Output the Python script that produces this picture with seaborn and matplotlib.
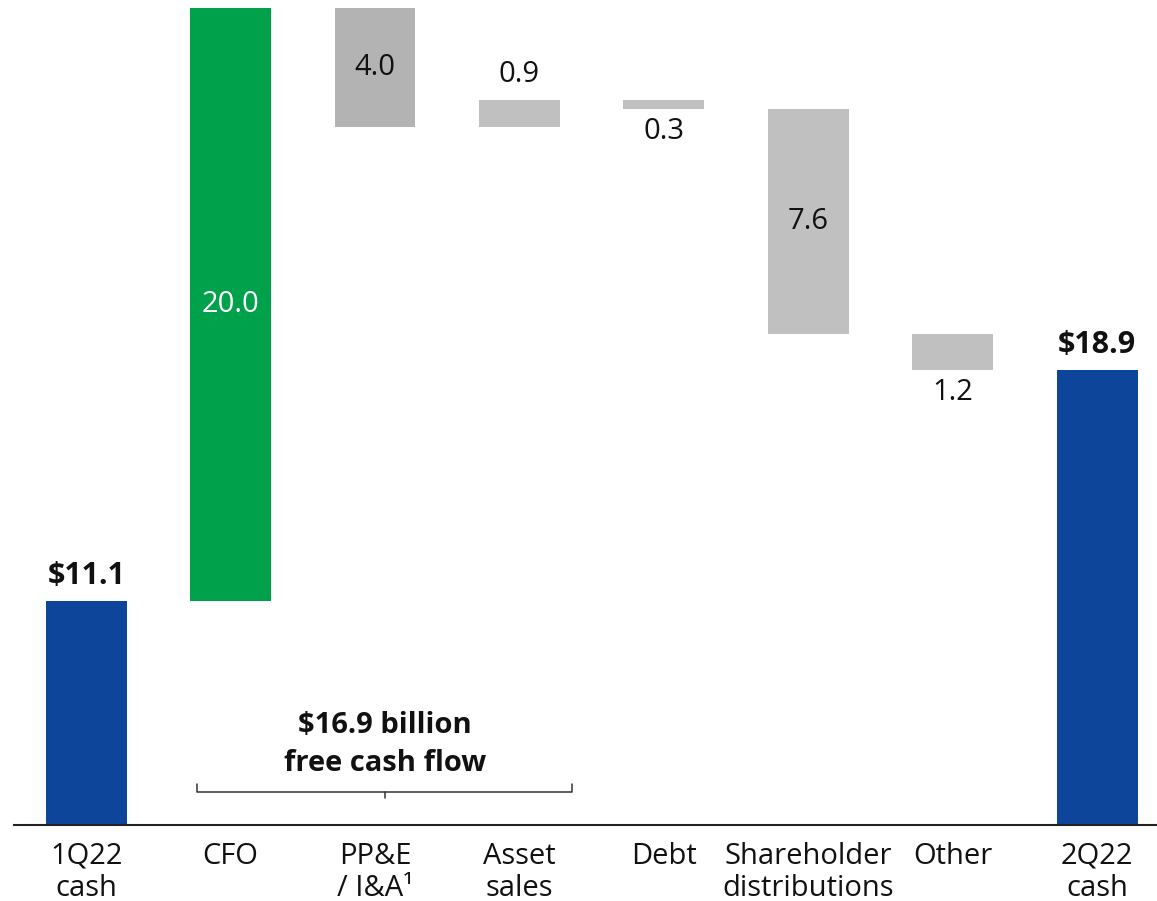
import pandas as pd
import matplotlib.pyplot as plt
import seaborn as sns

# -----------------------------
# Data ($ billion)
# -----------------------------
categories = ["1Q22\ncash", "CFO", "PP&E\n/ I&A¹", "Asset\nsales", "Debt",
              "Shareholder\ndistributions", "Other", "2Q22\ncash"]
start_cash = 11.1
flows = [20.0, -4.0, 0.9, -0.3, -7.6, -1.2]
end_cash = 18.9
fcf_items = [20.0, -4.0, 0.9]   # CFO, PP&E / I&A, Asset sales

BLUE = "#0C4599"
GREEN = "#00A14B"
GRAY = "#C0C0C0"
GRAY_DARK = "#B3B3B3"
flow_colors = [GREEN, GRAY_DARK, GRAY, GRAY, GRAY, GRAY]

# -----------------------------
# Build waterfall table
# -----------------------------
rows = [{"label": categories[0], "total": start_cash}]
level = start_cash
floats = []
for cat, f in zip(categories[1:-1], flows):
    floats.append((cat, min(level, level + f), abs(f), f))
    level += f
    rows.append({"label": cat, "total": float("nan")})
rows.append({"label": categories[-1], "total": end_cash})
df = pd.DataFrame(rows)

# -----------------------------
# Plot
# -----------------------------
sns.set_theme(style="white")
plt.rcParams["font.family"] = ["Open Sans", "DejaVu Sans"]

fig = plt.figure(figsize=(11.57, 9.01), dpi=100)
ax = fig.add_axes([14 / 1157, 76 / 901, 1 - 14 / 1157, 825 / 901])

BAR_W = 0.56
sns.barplot(data=df, x="label", y="total", order=categories, color=BLUE,
            width=BAR_W, saturation=1, ax=ax, linewidth=0)

for i, (cat, bottom, height, f) in enumerate(floats, start=1):
    ax.bar(i, height, bottom=bottom, width=BAR_W, color=flow_colors[i - 1], linewidth=0)
    txt = f"{abs(f):.1f}"
    if abs(f) >= 2:
        ax.text(i, bottom + height / 2, txt, ha="center", va="center", fontsize=21,
                color="white" if f > 0 else "#111111")
    elif f > 0:
        ax.annotate(txt, (i, bottom + height), xytext=(0, 8), textcoords="offset points",
                    ha="center", va="bottom", fontsize=21, color="#111111")
    else:
        ax.annotate(txt, (i, bottom), xytext=(0, -6), textcoords="offset points",
                    ha="center", va="top", fontsize=21, color="#111111")

for i, v in [(0, start_cash), (len(categories) - 1, end_cash)]:
    ax.annotate(f"\\${v:.1f}", (i, v), xytext=(0, 7), textcoords="offset points",
                ha="center", va="bottom", fontsize=22, fontweight="bold", color="#111111")

# free cash flow bracket
fcf = sum(fcf_items)
bx0, bx1, by = 0.77, 3.365, 4.66
bxm = (bx0 + bx1) / 2
ax.plot([bx0, bx0, bx1, bx1], [by + 0.27, by, by, by + 0.27], color="#333333", lw=1.1)
ax.plot([bxm, bxm], [by, by - 0.2], color="#333333", lw=1.1)
ax.text(bxm, by + 0.47, f"\\${fcf:.1f} billion\nfree cash flow", ha="center", va="bottom",
        fontsize=21, fontweight="bold", color="#111111", linespacing=1.42)

ax.set_ylim(3.545, 31.37)
ax.set_xlim(-0.5, 7.415)
ax.set_xlabel("")
ax.set_ylabel("")
ax.set_yticks([])
ax.tick_params(axis="x", length=0, pad=12, labelsize=21, labelcolor="#111111")
for t in ax.get_xticklabels():
    t.set_linespacing(1.16)
sns.despine(ax=ax, left=True)
ax.spines["bottom"].set_color("#222222")
ax.spines["bottom"].set_linewidth(1.5)

fig.savefig("out.png", dpi=100)
plt.close(fig)
